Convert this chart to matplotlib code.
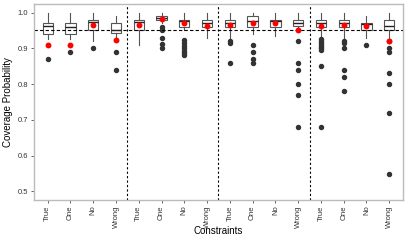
import matplotlib
matplotlib.use("Agg")
import matplotlib.pyplot as plt

plt.rcParams["font.family"] = ["Liberation Sans", "DejaVu Sans"]

# one box per (group, constraint)
labels = ["True", "One", "No", "Wrong"] * 4

whis_hi = [1.00, 1.00, 1.00, 0.99, 1.00, 1.00, 1.00, 1.00,
           1.00, 1.00, 1.00, 1.00, 1.00, 1.00, 0.99, 1.00]
q3 = [0.970, 0.970, 0.980, 0.972, 0.980, 0.990, 0.980, 0.980,
      0.980, 0.990, 0.980, 0.980, 0.980, 0.980, 0.970, 0.980]
medians = [0.963, 0.960, 0.974, 0.950, 0.973, 0.985, 0.975, 0.970,
           0.970, 0.975, 0.975, 0.972, 0.970, 0.970, 0.968, 0.963]
q1 = [0.941, 0.941, 0.950, 0.942, 0.950, 0.980, 0.960, 0.960,
      0.960, 0.960, 0.960, 0.963, 0.960, 0.960, 0.950, 0.950]
whis_lo = [0.925, 0.925, 0.920, 0.920, 0.910, 0.970, 0.950, 0.930,
           0.930, 0.940, 0.935, 0.950, 0.930, 0.930, 0.930, 0.930]
means = [0.910, 0.910, 0.966, 0.924, 0.966, 0.982, 0.972, 0.963,
         0.966, 0.972, 0.972, 0.950, 0.963, 0.966, 0.963, 0.920]
outliers = [
    [0.87],
    [0.89],
    [0.90],
    [0.89, 0.84],
    [],
    [0.96, 0.95, 0.93, 0.912, 0.90],
    [0.923, 0.915, 0.907, 0.90, 0.893, 0.887, 0.88],
    [],
    [0.92, 0.915, 0.86],
    [0.91, 0.89, 0.87, 0.86],
    [],
    [0.92, 0.86, 0.84, 0.80, 0.77, 0.68],
    [0.925, 0.92, 0.915, 0.91, 0.905, 0.90, 0.895, 0.85, 0.68],
    [0.92, 0.915, 0.90, 0.84, 0.82, 0.78],
    [0.91],
    [0.92, 0.90, 0.89, 0.83, 0.80, 0.72, 0.55],
]

stats = []
for i in range(len(labels)):
    stats.append({
        "whislo": whis_lo[i], "q1": q1[i], "med": medians[i],
        "q3": q3[i], "whishi": whis_hi[i], "fliers": outliers[i],
    })

positions = list(range(1, len(labels) + 1))

fig = plt.figure(figsize=(4.07, 2.42), dpi=100)
ax = fig.add_axes([0.0835, 0.1736, 0.9065, 0.81])

grey = "#555555"
ax.bxp(
    stats,
    positions=positions,
    widths=0.45,
    patch_artist=True,
    showcaps=False,
    boxprops=dict(facecolor="white", edgecolor=grey, linewidth=0.8),
    whiskerprops=dict(color=grey, linewidth=0.8),
    medianprops=dict(color="#222222", linewidth=1.0),
    flierprops=dict(marker="o", markerfacecolor="#333333",
                    markeredgecolor="#333333", markersize=2.9),
)
ax.scatter(positions, means, color="red", s=18, zorder=5, linewidths=0)

ax.axhline(0.95, color="black", linestyle="--", linewidth=0.8, dashes=(3, 2))
for xv in [4.5, 8.5, 12.5]:
    ax.axvline(xv, color="black", linestyle="--", linewidth=0.8, dashes=(2, 2))

ax.set_xlim(0.4, 16.6)
ax.set_ylim(0.476, 1.024)
ax.set_yticks([0.5, 0.6, 0.7, 0.8, 0.9, 1.0])
ax.set_yticklabels(["0.5", "0.6", "0.7", "0.8", "0.9", "1.0"])
ax.set_xticks(positions)
ax.set_xticklabels(labels, rotation=90)
ax.tick_params(axis="both", labelsize=5.5, colors="#4d4d4d", length=2.5,
               width=0.6, pad=1.5)
ax.tick_params(axis="both", labelcolor="#333333")
for spine in ax.spines.values():
    spine.set_color("#bbbbbb")
    spine.set_linewidth(1.0)

ax.set_ylabel("Coverage Probability", fontsize=7)
ax.set_xlabel("Constraints", fontsize=7)
ax.yaxis.set_label_coords(-0.058, 0.5)
ax.xaxis.set_label_coords(0.5, -0.135)

fig.savefig("out.png", dpi=100)
